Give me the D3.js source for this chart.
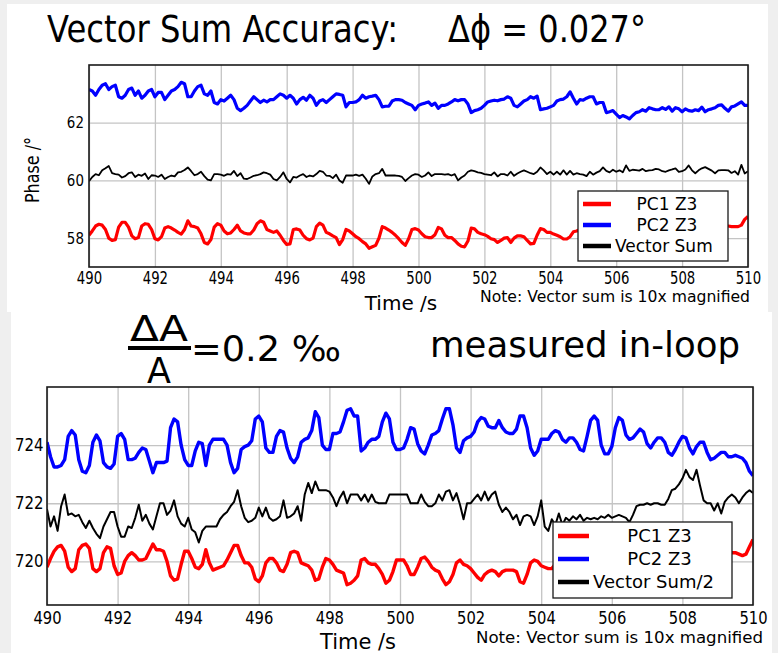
<!DOCTYPE html>
<html>
<head>
<meta charset="utf-8">
<script src="https://cdn.jsdelivr.net/npm/d3@7"></script>
<style>
  body { margin: 0; background: #efefef; }
  text { font-family: "DejaVu Sans", sans-serif; fill: #000; }
</style>
</head>
<body>
<script>
// ---- data (one sample every 0.1 s from 490 s to 510 s) ----
var xTicks = [490, 492, 494, 496, 498, 500, 502, 504, 506, 508, 510];
var phaseTicks = [58, 60, 62];
var ampTicks = [720, 722, 724];
var phaseLabels = ["    PC1 Z3", "    PC2 Z3", "Vector Sum"];
var ampLabels = ["      PC1 Z3", "      PC2 Z3", "Vector Sum/2"];

// phase, PC1 Z3 (red)
var phasePC1 = [
  58.1, 58.25, 58.42, 58.48, 58.45, 58.3, 58.0, 57.92, 57.95, 58.38,
  58.55, 58.55, 58.38, 58.08, 57.98, 58.02, 58.42, 58.5, 58.48, 58.3,
  57.98, 57.94, 58.05, 58.35, 58.4, 58.35, 58.28, 58.2, 58.14, 58.3,
  58.6, 58.42, 58.4, 58.35, 58.15, 57.85, 57.8, 57.95, 58.38, 58.5,
  58.45, 58.25, 58.15, 58.18, 58.3, 58.45, 58.25, 58.18, 58.15, 58.15,
  58.28, 58.5, 58.6, 58.55, 58.3, 58.25, 58.2, 58.25, 58.1, 57.92,
  57.78, 57.8, 58.3, 58.32, 58.28, 58.1, 57.98, 57.94, 58.0, 58.4,
  58.52, 58.45, 58.2, 58.15, 58.08, 58.02, 57.78, 57.95, 58.3, 58.25,
  58.15, 58.05, 57.98, 57.88, 57.8, 57.65, 57.7, 57.75, 58.0, 58.4,
  58.35, 58.28, 58.2, 58.1, 57.98, 57.85, 57.75, 57.98, 58.3, 58.33,
  58.28, 58.15, 58.05, 58.02, 58.02, 58.12, 58.37, 58.32, 58.1, 58.02,
  58.02, 57.92, 57.8, 57.72, 57.7, 57.9, 58.35, 58.32, 58.2, 58.15,
  58.12, 58.06, 57.98, 57.95, 57.85, 57.92, 58.0, 58.02, 57.85, 58.0,
  58.08, 58.08, 58.05, 57.92, 57.8, 57.82, 58.1, 58.33, 58.3, 58.2,
  58.2, 58.14, 58.1, 58.05, 57.97, 57.97, 58.05, 58.22, 58.25, 58.3,
  58.2, 58.0, 57.95, 58.15, 58.4, 58.45, 58.3, 58.05, 57.95, 58.05,
  58.35, 58.45, 58.35, 58.1, 57.98, 58.0, 58.3, 58.45, 58.4, 58.15,
  58.0, 58.02, 58.3, 58.48, 58.42, 58.2, 58.05, 58.08, 58.35, 58.5,
  58.45, 58.25, 58.1, 58.12, 58.4, 58.52, 58.45, 58.25, 58.15, 58.2,
  58.45, 58.52, 58.48, 58.42, 58.42, 58.4, 58.4, 58.4, 58.45, 58.65,
  58.75
];

// phase, PC2 Z3 (blue)
var phasePC2 = [
  63.15, 63.1, 62.95, 63.15, 63.3, 63.35, 63.15, 63.25, 63.3, 62.9,
  62.85, 62.95, 63.15, 63.2, 62.95, 63.1, 62.85, 62.95, 63.1, 63.15,
  62.9, 63.05, 63.05, 62.8, 62.95, 63.1, 63.15, 63.25, 63.4, 63.35,
  62.9, 62.9, 63.1, 63.25, 63.3, 63.0, 62.95, 63.1, 62.7, 62.65,
  62.8, 62.75, 62.85, 62.95, 62.8, 62.5, 62.42, 62.5, 62.6, 62.75,
  62.9, 62.8, 62.7, 62.78, 62.72, 62.8, 62.8, 62.9, 63.0, 62.95,
  62.85, 62.95, 62.85, 62.65, 62.8, 62.88, 62.78, 62.95, 62.85, 62.6,
  62.75, 62.8, 62.7, 62.8, 62.9, 63.0, 62.98, 62.95, 62.55, 62.7,
  62.7, 62.72, 62.8, 62.95, 62.85, 62.9, 62.92, 62.95, 62.8, 62.55,
  62.57, 62.57, 62.75, 62.8, 62.8, 62.78, 62.7, 62.65, 62.6, 62.45,
  62.6, 62.65, 62.68, 62.72, 62.6, 62.68, 62.5, 62.6, 62.6, 62.65,
  62.72, 62.8, 62.76, 62.8, 62.8, 62.65, 62.35, 62.42, 62.45, 62.5,
  62.6, 62.72, 62.75, 62.78, 62.76, 62.8, 62.82, 62.9, 62.85, 62.6,
  62.55, 62.65, 62.75, 62.8, 62.9, 62.85, 62.92, 62.45, 62.48, 62.5,
  62.55, 62.6, 62.75, 62.8, 62.82, 62.9, 63.07, 62.85, 62.65, 62.8,
  62.78, 62.85, 62.9, 62.9, 62.65, 62.7, 62.7, 62.35, 62.38, 62.42,
  62.3, 62.18, 62.25, 62.2, 62.13, 62.25, 62.35, 62.38, 62.45, 62.4,
  62.52, 62.48, 62.45, 62.45, 62.52, 62.46, 62.55, 62.4, 62.52, 62.48,
  62.38, 62.48, 62.42, 62.4, 62.45, 62.42, 62.54, 62.38, 62.45, 62.48,
  62.52, 62.6, 62.62, 62.5, 62.4, 62.55, 62.58, 62.65, 62.72, 62.6,
  62.6
];

// phase, vector sum (black)
var phaseSum = [
  59.97, 60.12, 60.22, 60.18, 60.35, 60.42, 60.5, 60.25, 60.22, 60.2,
  60.1, 60.15, 60.25, 60.28, 60.12, 60.2, 60.16, 60.24, 60.05, 60.18,
  60.17, 60.12, 60.2, 60.05, 60.12, 60.17, 60.14, 60.28, 60.3, 60.36,
  60.45, 60.32, 60.18, 60.22, 60.3, 60.15, 60.03, 60.0, 60.22, 60.22,
  60.2, 60.16, 60.22, 60.2, 60.33, 60.15, 60.25, 60.06, 60.05, 60.1,
  60.16, 60.18, 60.22, 60.28, 60.25, 60.2, 60.05, 60.0, 60.12, 60.28,
  60.05, 59.93, 60.12, 60.1, 60.17, 60.22, 60.12, 60.17, 60.14, 60.22,
  60.33, 60.3, 60.17, 60.16, 60.08, 60.2, 60.0, 59.92, 60.17, 60.17,
  60.17, 60.2, 60.16, 60.2, 60.06, 59.88, 60.14, 60.22, 60.25, 60.4,
  60.17, 60.17, 60.17, 60.17, 60.16, 60.12, 59.98, 60.08, 60.17, 60.22,
  60.2, 60.12, 60.17, 60.28, 60.15, 60.22, 60.22, 60.22, 60.2, 60.22,
  60.17, 60.22, 60.0, 60.1, 60.17, 60.3, 60.35, 60.32, 60.28, 60.26,
  60.22, 60.2, 60.18, 60.28, 60.14, 60.22, 60.22, 60.17, 60.3, 60.16,
  60.24, 60.3, 60.35, 60.3, 60.25, 60.22, 60.3, 60.45, 60.35, 60.22,
  60.3, 60.2, 60.3, 60.2, 60.35, 60.2, 60.33, 60.2, 60.25, 60.22,
  60.2, 60.15, 60.3, 60.2, 60.27, 60.32, 60.45, 60.33, 60.28, 60.37,
  60.3, 60.35, 60.28, 60.52, 60.33, 60.37, 60.36, 60.34, 60.4, 60.32,
  60.35, 60.36, 60.4, 60.38, 60.32, 60.3, 60.35, 60.38, 60.42, 60.3,
  60.32, 60.38, 60.52, 60.35, 60.25, 60.35, 60.42, 60.46, 60.4, 60.34,
  60.25, 60.35, 60.36, 60.36, 60.35, 60.26, 60.32, 60.2, 60.54, 60.24,
  60.32
];

// amplitude, PC1 Z3 (red)
var ampPC1 = [
  719.8, 720.1, 720.35, 720.5, 720.55, 720.35, 719.8, 719.65, 719.75, 720.4,
  720.55, 720.6, 720.45, 719.75, 719.65, 719.75, 720.3, 720.5, 720.45, 719.85,
  719.55, 719.6, 720.0, 720.2, 720.3, 720.2, 720.05, 720.05, 720.1, 720.35,
  720.6, 720.4, 720.4, 720.35, 720.0, 719.5, 719.35, 719.4, 719.9, 720.35,
  720.35, 720.1, 719.8, 719.75, 719.9, 720.4, 719.95, 719.7, 719.75, 719.8,
  719.85, 720.05, 720.3, 720.55, 720.55, 720.2, 719.95, 719.95, 719.8, 719.4,
  719.3, 719.5, 719.95, 720.1, 720.1, 719.95, 719.7, 719.65, 719.9, 720.3,
  720.35, 720.3, 719.95, 719.9, 719.85, 719.7, 719.35, 719.4, 719.8, 720.1,
  720.05, 719.9, 719.7, 719.65, 719.6, 719.2, 719.25, 719.35, 719.5, 720.05,
  720.1, 719.95, 719.9, 719.9, 719.75, 719.55, 719.25, 719.35, 719.65, 720.05,
  720.05, 720.05, 719.85, 719.55, 719.55, 719.8, 720.1, 720.15, 720.0, 719.8,
  719.7, 719.65, 719.4, 719.2, 719.3, 719.55, 719.95, 720.05, 719.9, 719.85,
  719.75, 719.6, 719.45, 719.35, 719.55, 719.65, 719.7, 719.65, 719.5, 719.65,
  719.7, 719.7, 719.7, 719.65, 719.3, 719.25, 719.55, 719.95, 720.05, 720.0,
  719.85, 719.8, 719.75, 719.75, 719.9, 720.15, 720.2, 719.95, 719.6, 719.5,
  719.6, 720.0, 720.2, 720.15, 719.8, 719.5, 719.55, 719.95, 720.2, 720.1,
  719.75, 719.5, 719.6, 720.0, 720.25, 720.1, 719.8, 719.6, 719.7, 720.05,
  720.25, 720.15, 719.85, 719.65, 719.75, 720.1, 720.3, 720.2, 719.9, 719.7,
  719.8, 720.15, 720.35, 720.25, 719.95, 719.75, 719.85, 720.2, 720.4, 720.3,
  720.05, 719.9, 720.0, 720.25, 720.3, 720.3, 720.25, 720.2, 720.25, 720.5,
  720.75
];

// amplitude, PC2 Z3 (blue)
var ampPC2 = [
  724.1, 723.6, 723.25, 723.25, 723.3, 723.5, 724.3, 724.5, 724.35, 723.5,
  723.1, 723.05, 723.3, 724.1, 724.35, 724.15, 723.4, 723.25, 723.2, 723.35,
  724.3, 724.4, 724.2, 723.5, 723.5, 723.55, 723.75, 723.9, 723.85, 723.45,
  723.05, 723.4, 723.4, 723.4, 723.45, 724.6, 724.9, 724.8, 724.0, 723.5,
  723.3, 723.3, 723.8, 724.1, 724.05, 723.3, 724.0, 724.2, 724.2, 724.2,
  724.2, 724.0, 723.4, 723.05, 723.2, 723.85, 723.95, 724.0, 724.15, 724.9,
  725.0, 724.8, 723.9, 723.75, 723.75, 724.3, 724.5, 724.45, 723.9, 723.55,
  723.4, 723.6, 724.1, 724.2, 724.25, 724.5, 725.15, 724.95, 724.0, 723.85,
  723.85, 724.4, 724.4, 724.45, 724.8, 725.2, 725.25, 725.0, 725.0, 723.8,
  723.9, 724.1, 724.2, 724.2, 724.3, 724.8, 725.1, 724.9, 724.1, 723.85,
  723.85, 723.9, 724.2, 724.6, 724.55, 724.05, 723.8, 723.7, 724.0, 724.35,
  724.4, 724.5, 724.9, 725.25, 725.25, 724.7, 723.9, 723.75, 724.15, 724.25,
  724.3, 724.45, 724.8, 724.95, 724.9, 724.65, 724.6, 724.6, 724.85, 724.6,
  724.45, 724.4, 724.4, 724.55, 725.0, 725.0, 724.6, 723.9, 723.65, 723.8,
  724.2, 724.2, 724.2, 724.4, 724.5, 724.45, 724.2, 724.1, 724.25, 724.25,
  724.1, 723.85, 723.8, 724.3, 724.85, 725.0, 724.85, 724.0, 723.7, 723.7,
  723.95, 724.6, 724.95, 724.85, 724.35, 724.2, 724.25, 724.4, 724.55, 724.45,
  724.05, 723.9, 724.1, 724.25, 724.25, 724.1, 723.75, 723.65, 723.85, 724.1,
  724.3, 724.25, 723.9, 723.7, 723.95, 724.1, 724.1, 723.75, 723.5, 723.55,
  723.65, 723.75, 723.75, 723.6, 723.6, 723.65, 723.6, 723.55, 723.4, 723.1,
  722.95
];

// amplitude, vector sum / 2 (black)
var ampSum = [
  721.8, 721.2, 721.55, 721.05, 721.9, 722.3, 721.6, 721.65, 721.55, 721.6,
  721.35, 721.15, 721.4, 721.15, 720.95, 720.8, 721.2, 721.45, 721.7, 721.7,
  721.2, 720.85, 720.85, 721.2, 721.15, 721.5, 721.95, 721.4, 721.6, 721.3,
  721.1, 721.55, 722.0, 722.0, 721.6, 721.75, 722.1, 721.55, 721.3, 721.2,
  721.5, 721.1, 721.0, 720.65, 721.05, 721.2, 721.2, 721.2, 721.2, 721.45,
  721.6, 721.7, 721.9, 722.05, 722.45, 721.9, 721.5, 721.35, 721.4, 721.5,
  721.85, 721.55, 721.85, 721.5, 721.4, 721.45, 721.55, 722.1, 721.5, 721.55,
  721.65, 721.9, 721.4, 722.3, 722.7, 722.35, 722.75, 722.45, 722.45, 722.45,
  722.4, 722.2, 721.9, 722.2, 722.4, 722.0, 722.3, 722.3, 722.3, 722.1,
  722.3, 722.05, 722.3, 722.05, 722.0, 722.0, 722.0, 722.3, 722.3, 722.3,
  722.3, 722.3, 722.3, 722.0, 722.0, 722.0, 722.3, 722.05, 721.9, 721.9,
  722.0, 722.3, 722.1, 722.4, 722.45, 722.1, 722.35, 721.95, 721.45, 722.0,
  722.0, 722.15, 722.3, 722.1, 722.4, 722.1, 722.3, 722.4, 721.95, 721.7,
  721.85, 721.7, 721.45, 721.6, 721.25, 721.55, 721.6, 721.55, 721.25, 721.55,
  722.1, 721.2, 721.05, 721.45, 721.25, 721.65, 721.25, 721.5, 721.4, 721.55,
  721.45, 721.6, 721.4, 721.5, 721.45, 721.5, 721.45, 721.55, 721.5, 721.6,
  721.5, 721.55, 721.6, 721.55, 721.5, 721.35, 721.6, 721.9, 721.95, 721.95,
  722.0, 721.95, 722.0, 722.0, 721.95, 721.95, 722.15, 722.45, 722.5, 722.65,
  722.85, 723.15, 722.9, 722.8, 723.15, 722.6, 722.1, 722.0, 722.0, 721.75,
  722.0, 721.65, 722.05, 722.2, 722.3, 722.2, 722.0, 722.2, 722.35, 722.45,
  722.35
];

// sample clock: 0.1 s steps
var times = d3.range(201).map(function(i) { return 490 + i / 10; });

var svg = d3.select("body").append("svg")
    .attr("width", 778)
    .attr("height", 653);

// the two white sheets on the grey page
svg.append("rect").attr("x", 7).attr("y", 4).attr("width", 761).attr("height", 308).attr("fill", "#fff");
svg.append("rect").attr("x", 11).attr("y", 312).attr("width", 761).attr("height", 341).attr("fill", "#fff");

// plain text helper, optionally squeezed to a given width
function label(x, y, str, size, anchor, len) {
  var t = svg.append("text")
      .attr("x", x).attr("y", y)
      .attr("font-size", size)
      .attr("text-anchor", anchor || "start")
      .style("white-space", "pre")
      .text(str);
  if (len) t.attr("textLength", len).attr("lengthAdjust", "spacingAndGlyphs");
  return t;
}

function panel(p) {
  var x = d3.scaleLinear().domain([490, 510]).range([p.left, p.right]);
  var y = d3.scaleLinear().domain(p.yDomain).range([p.bottom, p.top]);
  var g = svg.append("g");
  var h = p.bottom - p.top, w = p.right - p.left;

  // grid
  g.append("g")
      .attr("transform", "translate(0," + p.bottom + ")")
      .call(d3.axisBottom(x).tickValues(xTicks).tickSize(-h).tickFormat(""))
      .call(function(a) {
        a.select(".domain").remove();
        a.selectAll("line").attr("stroke", "#c4c4c4").attr("stroke-width", 1.3);
      });
  g.append("g")
      .attr("transform", "translate(" + p.left + ",0)")
      .call(d3.axisLeft(y).tickValues(p.yTicks).tickSize(-w).tickFormat(""))
      .call(function(a) {
        a.select(".domain").remove();
        a.selectAll("line").attr("stroke", "#c4c4c4").attr("stroke-width", 1.3);
      });

  // lines
  var clipId = "clip" + p.top;
  svg.append("clipPath").attr("id", clipId)
    .append("rect").attr("x", p.left).attr("y", p.top).attr("width", w).attr("height", h);

  var line = d3.line()
      .x(function(d, i) { return x(times[i]); })
      .y(function(d) { return y(d); });

  g.append("g").attr("clip-path", "url(#" + clipId + ")")
    .selectAll("path")
    .data(p.series)
    .enter().append("path")
      .attr("d", function(s) { return line(s.values); })
      .attr("fill", "none")
      .attr("stroke", function(s) { return s.color; })
      .attr("stroke-width", function(s) { return s.width; })
      .attr("stroke-linejoin", "round");

  // frame
  g.append("rect")
      .attr("x", p.left).attr("y", p.top).attr("width", w).attr("height", h)
      .attr("fill", "none").attr("stroke", "#1a1a1a").attr("stroke-width", 1.6);

  // tick labels
  g.append("g")
      .attr("transform", "translate(0," + p.bottom + ")")
      .call(d3.axisBottom(x).tickValues(xTicks).tickSize(0).tickPadding(p.xPad).tickFormat(d3.format("d")))
      .call(function(a) {
        a.select(".domain").remove();
        a.selectAll("text").attr("font-size", p.xFont).attr("fill", "#000")
          .attr("font-family", "DejaVu Sans")
          .attr("transform", "scale(" + p.xSx + ",1)");
      });
  g.append("g")
      .attr("transform", "translate(" + p.left + ",0)")
      .call(d3.axisLeft(y).tickValues(p.yTicks).tickSize(0).tickPadding(p.yPad).tickFormat(d3.format("d")))
      .call(function(a) {
        a.select(".domain").remove();
        a.selectAll("text").attr("font-size", p.yFont).attr("fill", "#000")
          .attr("font-family", "DejaVu Sans")
          .attr("transform", "scale(" + p.ySx + ",1)");
      });

  // legend
  var L = p.legend;
  g.append("rect")
      .attr("x", L.x).attr("y", L.y).attr("width", L.w).attr("height", L.h)
      .attr("fill", "#fff").attr("stroke", "#1a1a1a").attr("stroke-width", 1.3);
  var rows = g.selectAll(".leg")
      .data(p.series)
      .enter().append("g")
      .attr("class", "leg")
      .attr("transform", function(s, i) { return "translate(0," + (L.y0 + i * L.dy) + ")"; });
  rows.append("line")
      .attr("x1", L.lx0).attr("x2", L.lx1)
      .attr("stroke", function(s) { return s.color; })
      .attr("stroke-width", 4.5);
  rows.append("text")
      .attr("x", L.tx).attr("y", L.font * 0.36)
      .attr("font-size", L.font)
      .style("white-space", "pre")
      .text(function(s, i) { return L.labels[i]; });
}

panel({
  left: 89, right: 748, top: 65, bottom: 267,
  yDomain: [57, 64], yTicks: phaseTicks,
  xPad: 5, xFont: 17, xSx: 0.78,
  yPad: 6, yFont: 16, ySx: 0.84,
  series: [
    { values: phasePC1, color: "#ff0000", width: 3.2 },
    { values: phasePC2, color: "#0000ff", width: 3.2 },
    { values: phaseSum, color: "#000000", width: 1.8 }
  ],
  legend: { x: 578, y: 191, w: 150, h: 70, y0: 204, dy: 21, lx0: 583, lx1: 611, tx: 615, font: 17, labels: phaseLabels }
});

panel({
  left: 47, right: 753, top: 387, bottom: 605,
  yDomain: [718.5, 726], yTicks: ampTicks,
  xPad: 6, xFont: 18, xSx: 0.82,
  yPad: 4, yFont: 17, ySx: 0.88,
  series: [
    { values: ampPC1, color: "#ff0000", width: 3.4 },
    { values: ampPC2, color: "#0000ff", width: 3.4 },
    { values: ampSum, color: "#000000", width: 2 }
  ],
  legend: { x: 553, y: 522, w: 179, h: 76, y0: 536, dy: 23, lx0: 558, lx1: 589, tx: 593, font: 18, labels: ampLabels }
});

// titles and annotations
label(47, 42, "Vector Sum Accuracy:", 37, "start", 351);
label(448, 42, "Δϕ = 0.027°", 37, "start", 198);

label(0, 0, "Phase /°", 20, "middle", 66)
    .attr("x", null).attr("y", null)
    .attr("transform", "translate(39,170) rotate(-90)");

label(401, 310, "Time /s", 20, "middle");
label(480, 302, "Note: Vector sum is 10x magnified", 15.5, "start", 270);

label(159, 341, "ΔA", 35, "middle", 58);
svg.append("rect").attr("x", 128).attr("y", 346).attr("width", 63).attr("height", 4).attr("fill", "#000");
label(159, 383, "A", 35, "middle");
label(191, 361, "=0.2 ‰", 36, "start", 150);
label(430, 357, "measured in-loop", 36, "start", 310);

label(358, 649, "Time /s", 21, "middle");
label(476, 643, "Note: Vector sum is 10x magnified", 16, "start", 287);
</script>
</body>
</html>
